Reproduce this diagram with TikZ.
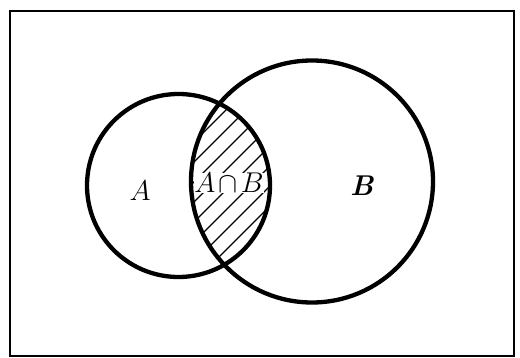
\documentclass[tikz,border=0pt]{standalone}
\begin{document}
\begin{tikzpicture}[x=1pt,y=-1pt,
  setcircle/.style={line width=4.3pt},
  hatchline/.style={line width=1.3pt},
  lbl/.style={font=\Huge, inner sep=0.5pt, scale=1.15}]
\useasboundingbox (0,0) rectangle (520,358);
\node[draw, line width=2pt, minimum width=504pt, minimum height=345pt, inner sep=0pt] (frame) at (262,183.5) {};
\coordinate (ca) at (178.5,185.5);
\coordinate (cb) at (312,181.5);
\begin{scope}
  \clip (ca) circle (91.5);
  \clip (cb) circle (121);
  \foreach \c in {296,316,...,520} {
    \draw[hatchline] (\c-100,100) -- (\c-300,300);
  }
\end{scope}
\node[lbl, fill=white] (ab) at (229,183) {$A\mkern-2mu\cap\mkern-2mu B$};
\node[lbl] (la) at (140,191) {$A$};
\node[lbl] (lb) at (362,186) {\textbf{\textit{B}}};
\draw[setcircle] (ca) circle (91.5);
\draw[setcircle] (cb) circle (121);
\end{tikzpicture}
\end{document}
